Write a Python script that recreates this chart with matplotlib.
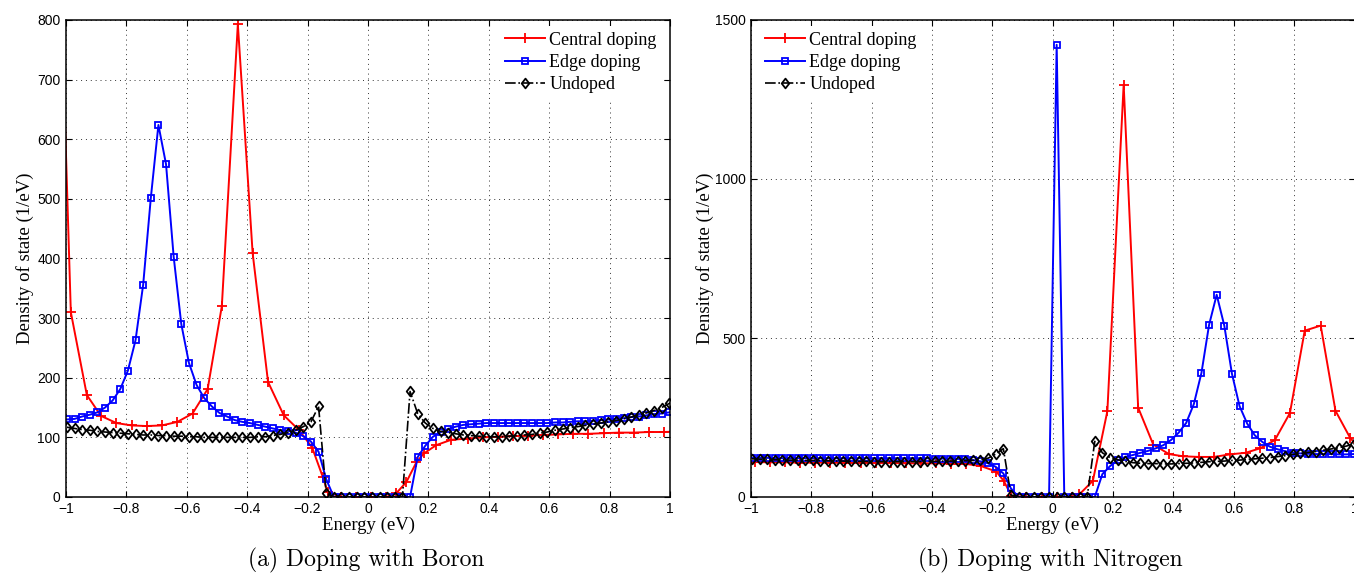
import numpy as np
import matplotlib
matplotlib.use("Agg")
import matplotlib.pyplot as plt
from matplotlib.path import Path

# ---------------------------------------------------------------- data
# Common energy sampling grid (eV) of the edge-doped and undoped curves
energy = np.linspace(-0.997, 1.023, 81)

# Boron
boron_edge = [130, 131, 135, 138, 142, 150, 162, 181, 212, 263,
              356, 501, 624, 558, 403, 290, 225, 188, 166, 152,
              141, 135, 129, 126, 124, 121, 118, 115, 112, 111,
              108, 102, 93, 76, 30,
              0, 0, 0, 0, 0, 0, 0, 0, 0, 0, 0,
              67, 86, 101, 109, 114, 118, 121, 122, 123, 124,
              124, 124, 124, 124, 124, 124, 124, 124, 125, 125,
              126, 127, 127, 128, 129, 130, 131, 132, 134, 135,
              137, 139, 140, 142, 143]
boron_undoped = [117, 115, 113, 112, 110, 109, 108, 107, 106, 105,
                 104, 104, 103, 103, 102, 102, 101, 101, 100, 100,
                 100, 100, 100, 100, 100, 101, 101, 103, 105, 108,
                 112, 118, 126, 152, 7,
                 0, 0, 0, 0, 0, 0, 0, 0, 0, 0,
                 177,
                 140, 124, 115, 110, 108, 106, 104, 103, 102, 101,
                 101, 101, 102, 103, 104, 105, 107, 109, 112, 114,
                 116, 118, 120, 122, 124, 126, 128, 131, 134, 138,
                 141, 145, 150, 157, 166]
boron_central_e = [-1.034, -0.984, -0.931, -0.884, -0.833, -0.782, -0.733,
                   -0.683, -0.631, -0.581, -0.531, -0.484, -0.431, -0.382,
                   -0.331, -0.279, -0.228, -0.185, -0.150, -0.134, -0.090,
                   -0.040, 0.010, 0.060, 0.093, 0.127, 0.160, 0.185, 0.226,
                   0.276, 0.331, 0.380, 0.430, 0.480, 0.530, 0.580, 0.630,
                   0.680, 0.730, 0.780, 0.830, 0.880, 0.930, 0.980, 1.030]
boron_central = [1135, 310, 171, 136, 124, 120, 119, 120, 126, 140,
                 181, 320, 793, 409, 193, 137, 112, 83, 34, 9,
                 0, 0, 0, 0, 6, 25, 58, 73, 87, 96,
                 98, 100, 101, 102, 103, 104, 105, 106, 106, 107,
                 108, 108, 109, 109, 110]

# Nitrogen
nitrogen_edge = [123, 123, 123, 122, 122, 122, 122, 122, 122, 122,
                 122, 122, 122, 122, 122, 122, 122, 122, 122, 122,
                 122, 122, 122, 122, 121, 121, 121, 120, 118, 116,
                 112, 106, 95, 74, 27,
                 0, 0, 0, 0, 0,
                 1422,
                 0, 0, 0, 0, 0,
                 72, 97, 115, 126, 132, 139, 145, 153, 163, 179,
                 202, 233, 292, 390, 541, 636, 539, 388, 286, 231,
                 194, 173, 158, 150, 144, 139, 137, 136, 135, 135,
                 135, 134, 134, 135, 135]
nitrogen_undoped = [120, 119, 118, 117, 117, 116, 116, 115, 115, 114,
                    114, 113, 113, 112, 112, 112, 111, 111, 111, 111,
                    111, 111, 111, 112, 112, 113, 113, 113, 114, 115,
                    117, 122, 135, 152, 6,
                    0, 0, 0, 0, 0, 0, 0, 0, 0, 0,
                    175,
                    139, 124, 117, 112, 108, 106, 105, 105, 104, 104,
                    105, 106, 107, 109, 111, 112, 113, 115, 116, 118,
                    120, 122, 124, 127, 130, 134, 137, 140, 143, 147,
                    151, 155, 160, 167, 174]
nitrogen_central_e = [-1.037, -0.987, -0.937, -0.887, -0.837, -0.787, -0.737,
                      -0.687, -0.637, -0.587, -0.537, -0.487, -0.437, -0.387,
                      -0.337, -0.287, -0.237, -0.187, -0.162, -0.137, -0.087,
                      -0.037, 0.013, 0.063, 0.088, 0.133, 0.181, 0.235, 0.283,
                      0.333, 0.385, 0.432, 0.484, 0.534, 0.587, 0.639, 0.687,
                      0.736, 0.786, 0.835, 0.888, 0.937, 0.985, 1.035]
nitrogen_central = [110, 110, 109, 109, 108, 108, 108, 107, 107, 107,
                    107, 106, 106, 106, 105, 104, 97, 80, 50, 4,
                    0, 0, 0, 0, 8, 51, 270, 1297, 281, 165,
                    135, 128, 126, 126, 134, 139, 153, 179, 264, 523,
                    539, 271, 187, 130]

series_labels = ["Central doping", "Edge doping", "Undoped"]
x_ticks = [-1, -0.8, -0.6, -0.4, -0.2, 0, 0.2, 0.4, 0.6, 0.8, 1]
x_tick_labels = ["\u22121", "\u22120.8", "\u22120.6", "\u22120.4", "\u22120.2",
                 "0", "0.2", "0.4", "0.6", "0.8", "1"]
boron_y_ticks = [0, 100, 200, 300, 400, 500, 600, 700, 800]
nitrogen_y_ticks = [0, 500, 1000, 1500]
captions = ["(a) Doping with Boron", "(b) Doping with Nitrogen"]

# ---------------------------------------------------------------- style
plt.rcParams.update({
    "font.family": ["Liberation Sans", "DejaVu Sans"],
    "axes.linewidth": 1.1,
    "xtick.direction": "in", "ytick.direction": "in",
    "xtick.top": True, "ytick.right": True,
    "xtick.major.size": 4, "ytick.major.size": 4,
    "xtick.major.width": 0.8, "ytick.major.width": 0.8,
    "xtick.major.pad": 3.5, "ytick.major.pad": 4,
    "xtick.labelsize": 10, "ytick.labelsize": 10,
})

diamond = Path([(0, 1), (0.78, 0), (0, -1), (-0.78, 0), (0, 1)],
               [Path.MOVETO, Path.LINETO, Path.LINETO, Path.LINETO, Path.CLOSEPOLY])

W, H = 1354, 573
fig = plt.figure(figsize=(W / 100, H / 100), dpi=100)
ax_b = fig.add_axes([66 / W, 76 / H, 604 / W, 477 / H])
ax_n = fig.add_axes([751 / W, 76 / H, 603.5 / W, 477 / H])

serif = "Liberation Serif"


def draw_panel(ax, central_e, central, edge, undoped, ymax, yticks):
    ax.plot(central_e, central, color="#ff0000", lw=1.4, marker="+",
            ms=6.5, mew=1.3, label=series_labels[0])
    ax.plot(energy, edge, color="#0000ff", lw=1.4, marker="s", ms=4.6,
            mew=1.3, mfc="none", label=series_labels[1])
    ax.plot(energy, undoped, color="black", lw=1.2, ls="-.", marker=diamond,
            ms=7, mew=1.3, mfc="none", label=series_labels[2])
    ax.set_xlim(-1, 1)
    ax.set_ylim(0, ymax)
    ax.set_xticks(x_ticks)
    ax.set_xticklabels(x_tick_labels)
    ax.set_yticks(yticks)
    ax.set_yticklabels([str(v) for v in yticks])
    ax.set_axisbelow(True)
    ax.grid(True, linestyle=(0, (1, 4)), color="#333333", linewidth=0.7)
    ax.text(0.5, -0.0595, "Energy (eV)", transform=ax.transAxes,
            ha="center", va="center", family=serif, size=13.5)


draw_panel(ax_b, boron_central_e, boron_central, boron_edge, boron_undoped,
           800, boron_y_ticks)
draw_panel(ax_n, nitrogen_central_e, nitrogen_central, nitrogen_edge,
           nitrogen_undoped, 1500, nitrogen_y_ticks)

ax_b.text(-0.0679, 0.5, "Density of state (1/eV)", transform=ax_b.transAxes,
          rotation=90, ha="center", va="center", family=serif, size=13.5)
ax_n.text(-0.0762, 0.5, "Density of state (1/eV)", transform=ax_n.transAxes,
          rotation=90, ha="center", va="center", family=serif, size=13.5)

legend_kw = dict(prop={"family": serif, "size": 13}, handlelength=2.2,
                 handletextpad=0.25, labelspacing=0.3, borderpad=0.3,
                 borderaxespad=0, fancybox=False, edgecolor="none",
                 facecolor="white", framealpha=1, numpoints=1)
ax_b.legend(loc="upper right", bbox_to_anchor=(0.987, 0.987), **legend_kw)
ax_n.legend(loc="upper left", bbox_to_anchor=(0.0143, 0.987), **legend_kw)

fig.text(366 / W, 1 - 560 / H, captions[0], ha="center", va="center",
         family="cmr10", size=17)
fig.text(1050 / W, 1 - 560 / H, captions[1], ha="center", va="center",
         family="cmr10", size=17)

fig.savefig("out.png", dpi=100)
